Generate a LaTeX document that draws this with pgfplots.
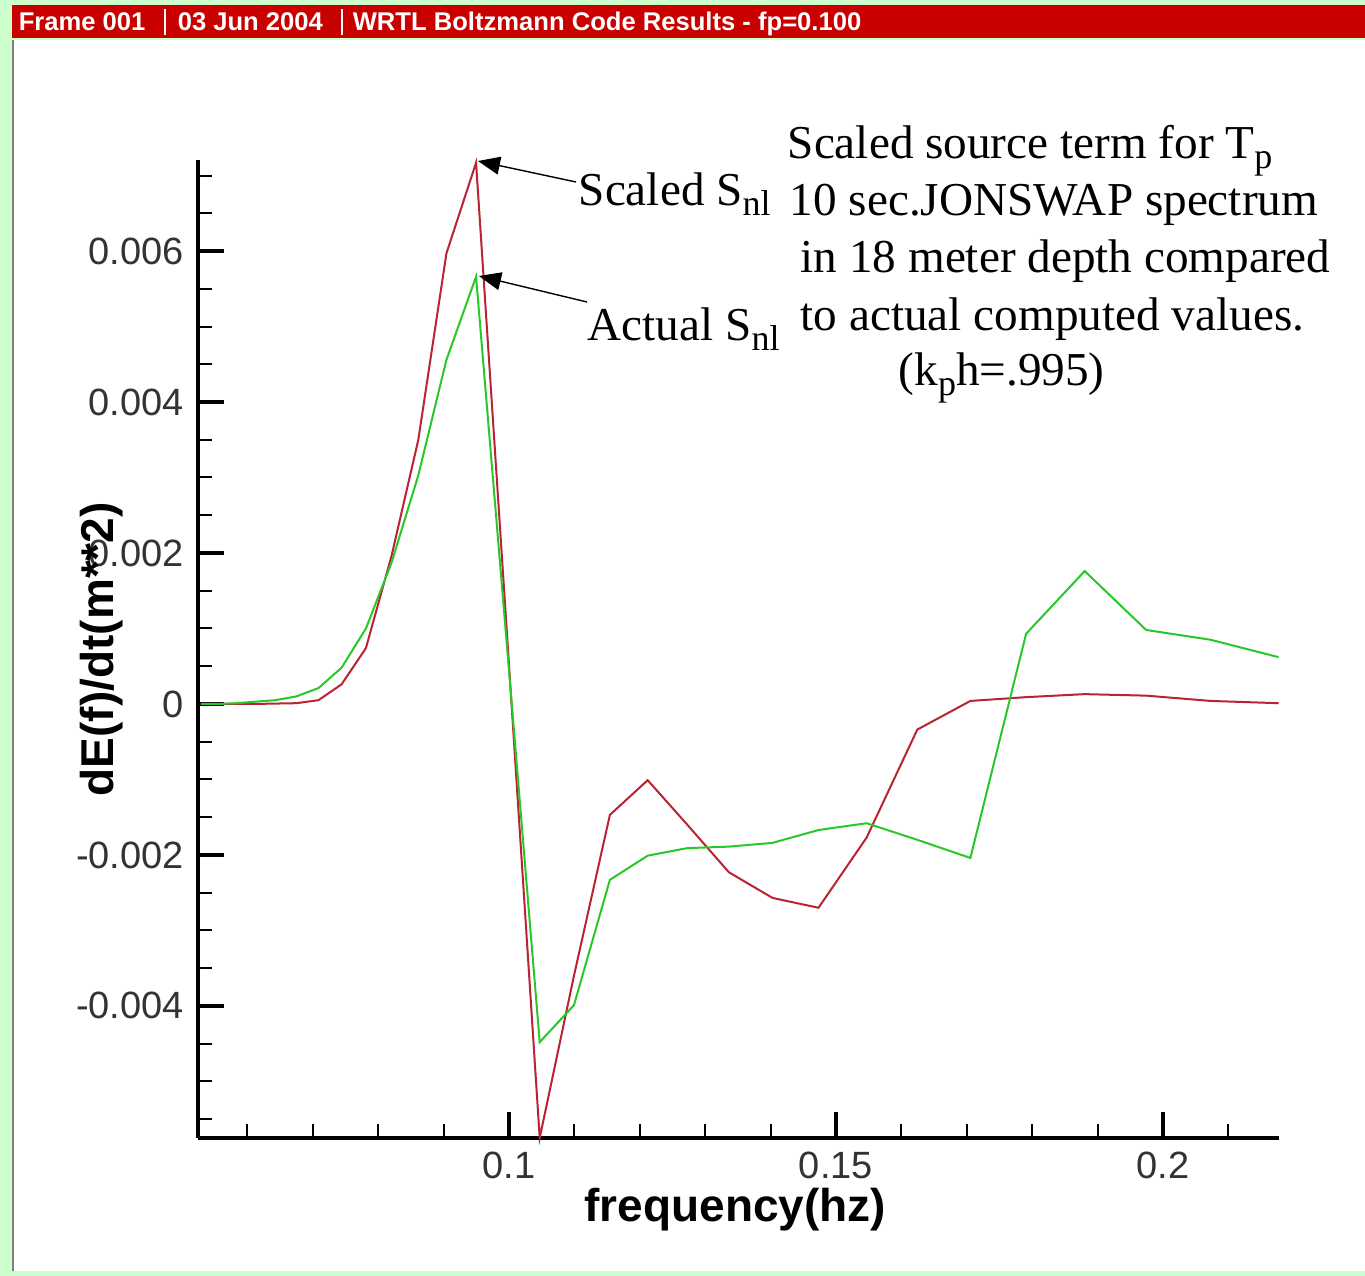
\documentclass[border=0pt]{standalone}
\usepackage{pgfplots}
\pgfplotsset{compat=1.18}
\usepackage{fontspec}
\setmainfont{Liberation Serif}
\setsansfont{Liberation Sans}
\usetikzlibrary{arrows.meta}
\definecolor{bggreen}{RGB}{204,255,204}
\definecolor{hdrred}{RGB}{200,0,0}
\definecolor{redline}{RGB}{185,35,50}
\definecolor{greenline}{RGB}{40,200,40}
\newcommand\sub[1]{\raisebox{-0.5ex}{\fontsize{9}{9}\selectfont #1}}

\pgfplotstableread{
f        scaled     actual
0.05288  0.0        0.0
0.05553  0.0        0.0
0.05830  0.0        0.00001
0.06122  0.0        0.00003
0.06428  0.000005   0.00005
0.06749  0.00001    0.0001
0.07087  0.00005    0.00021
0.07441  0.00026    0.00048
0.07813  0.00074    0.001
0.08204  0.00196    0.00187
0.08614  0.0035     0.00303
0.09044  0.00597    0.00456
0.09497  0.00717    0.00566
0.09971  0.00091    0.00075
0.10470  -0.00575   -0.00448
0.10994  -0.0036    -0.00399
0.11543  -0.00147   -0.00233
0.12121  -0.00101   -0.00201
0.12727  -0.0016    -0.00191
0.13363  -0.00223   -0.00189
0.14031  -0.00257   -0.00184
0.14733  -0.0027    -0.00167
0.15469  -0.00177   -0.00158
0.16243  -0.00034   -0.0018
0.17055  0.00004    -0.00204
0.17908  0.00009    0.00093
0.18803  0.00013    0.00176
0.19743  0.00011    0.00098
0.20730  0.00004    0.00085
0.21767  0.00001    0.00062
}\datatable

\begin{document}
\begin{tikzpicture}
\begin{scope}[x=0.25pt,y=-0.25pt]
\fill[bggreen] (0,0) rectangle (1365,1276);
\fill[white] (13,40) rectangle (1365,1271);
\draw[black!50, line width=0.4pt] (13,40) -- (13,1271);
\fill[hdrred] (12,5) rectangle (1365,38);
\draw[white, line width=0.3pt] (165,9) -- (165,35);
\draw[white, line width=0.3pt] (342,9) -- (342,35);
\begin{scope}[every node/.style={anchor=base west, inner sep=0pt, text=white, font=\sffamily\bfseries\fontsize{6.4}{7}\selectfont}]
\node at (18,30) {Frame 001};
\node at (177,30) {03 Jun 2004};
\node at (352,30) {WRTL Boltzmann Code Results - fp=0.100};
\end{scope}
\begin{scope}[every node/.style={anchor=base west, inner sep=0pt, text=black, font=\rmfamily\fontsize{11.8}{13}\selectfont}]
\node at (578,205) {Scaled S\sub{nl}};
\node at (587,340) {Actual S\sub{nl}};
\node at (787,158) {Scaled source term for T\sub{p}};
\node at (789,215) {10 sec.JONSWAP spectrum};
\node at (800,272) {in 18 meter depth compared};
\node at (800,330) {to actual computed values.};
\node at (898,385) {(k\sub{p}h=.995)};
\end{scope}
\end{scope}

\begin{axis}[
  at={(49.5pt,-284.5pt)}, anchor=south west,
  scale only axis, width=270.25pt, height=244.4pt,
  xmin=0.05245, xmax=0.21774, ymin=-0.00575, ymax=0.0072,
  axis lines=left, axis line style={-, line width=1pt, black},
  clip=false,
  tick align=inside,
  xtick={0.1,0.15,0.2}, xticklabels={0.1,0.15,0.2},
  minor xtick={0.06,0.07,0.08,0.09,0.11,0.12,0.13,0.14,0.16,0.17,0.18,0.19,0.21},
  ytick={-0.004,-0.002,0,0.002,0.004,0.006},
  yticklabels={-0.004,-0.002,0,0.002,0.004,0.006},
  minor ytick={-0.0055,-0.005,-0.0045,-0.0035,-0.003,-0.0025,-0.0015,-0.001,-0.0005,0.0005,0.001,0.0015,0.0025,0.003,0.0035,0.0045,0.005,0.0055,0.0065,0.007},
  major tick length=6.5pt, minor tick length=3.5pt,
  every major tick/.append style={line width=0.8pt, black},
  every minor tick/.append style={line width=0.5pt, black},
  ticklabel style={font=\sffamily\fontsize{9.5}{10}\selectfont, text=black!80},
  scaled x ticks=false, scaled y ticks=false,
  xlabel={frequency(hz)}, ylabel={dE(f)/dt(m**2)},
  xlabel style={at={(axis description cs:0.497,-0.0859)}, anchor=base, font=\sffamily\bfseries\fontsize{11.5}{12}\selectfont},
  ylabel style={at={(axis description cs:-0.089,0.50)}, anchor=center, font=\sffamily\bfseries\fontsize{11.5}{12}\selectfont},
]
\addplot[redline, line width=0.5pt, mark=none] table[x=f, y=scaled] {\datatable};
\addplot[greenline, line width=0.5pt, mark=none] table[x=f, y=actual] {\datatable};
\end{axis}

\begin{scope}[x=0.25pt,y=-0.25pt]
\draw[black, line width=0.35pt, -{Triangle[length=5.5pt, width=4.5pt]}] (576,182) -- (478,161);
\draw[black, line width=0.35pt, -{Triangle[length=5.5pt, width=4.5pt]}] (587,302) -- (479,276);
\end{scope}
\end{tikzpicture}
\end{document}
